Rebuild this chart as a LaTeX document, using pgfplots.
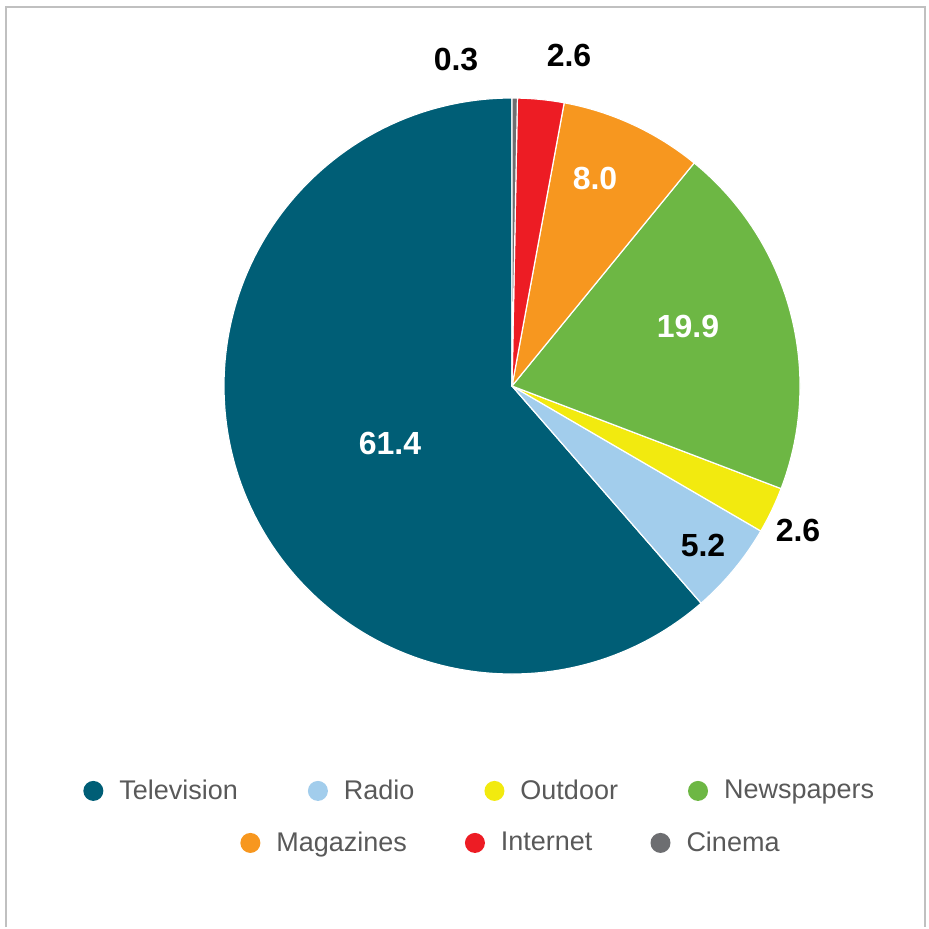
\documentclass[border=0pt]{standalone}
\usepackage{pgfplots}
\pgfplotsset{compat=1.18}
\usepackage{pgfplotstable}
\usepackage{fontspec}
\setmainfont{Liberation Sans}
\definecolor{ctv}{HTML}{005E76}
\definecolor{cradio}{HTML}{A2CDEC}
\definecolor{coutdoor}{HTML}{F2EA0F}
\definecolor{cnews}{HTML}{6DB744}
\definecolor{cmag}{HTML}{F7971F}
\definecolor{cnet}{HTML}{ED1C24}
\definecolor{ccinema}{HTML}{6D6E71}
\definecolor{legtext}{HTML}{595959}
\definecolor{framegray}{HTML}{C0C0C0}

% share of ad spend, counter-clockwise from 12 o'clock
\pgfplotstableread{
name value color
Television 61.4 ctv
Radio 5.2 cradio
Outdoor 2.6 coutdoor
Newspapers 19.9 cnews
Magazines 8.0 cmag
Internet 2.6 cnet
Cinema 0.3 ccinema
}\piedata

\pgfplotsset{
  pieframe/.style={
    scale only axis, width=464.5pt, height=463.5pt,
    xmin=0, xmax=929, ymin=0, ymax=927,
    hide axis, clip=false,
  },
  dotlegend/.style={
    legend style={draw=none, fill=none, inner sep=0pt, anchor=west,
      font=\fontsize{13.5}{16}\selectfont\color{legtext}},
    legend image code/.code={
      \path[draw=none, fill=none] (0pt,0pt) -- (16pt,0pt);
      \fill[draw=none, ##1] (5pt,0pt) circle (5pt);},
  },
}

\begin{document}
\begin{tikzpicture}
\begin{axis}[pieframe, dotlegend,
  legend columns=4,
  legend style={at={(0.0893,0.1468)},
    /tikz/every even column/.append style={column sep=33pt}}]
  \pgfplotsextra{
    \path (axis cs:0,0) rectangle (axis cs:929,927);
    \draw[framegray, line width=1pt] (axis cs:6,0) -- (axis cs:6,920)
      -- (axis cs:925,920) -- (axis cs:925,0);
    \def\start{90}
    \pgfplotsforeachungrouped \i in {0,...,6}{
      \pgfplotstablegetelem{\i}{value}\of{\piedata}\let\v\pgfplotsretval
      \pgfplotstablegetelem{\i}{color}\of{\piedata}\let\c\pgfplotsretval
      \pgfmathsetmacro{\stop}{\start+3.6*\v}
      \fill[fill=\c, draw=white, line width=0.6pt, line join=round]
        (axis cs:512,541) -- ++(\start:144pt)
        arc[start angle=\start, end angle=\stop, radius=144pt] -- cycle;
      \global\let\start\stop
    }
  }
  \node[font=\fontsize{16}{19}\bfseries\selectfont, white] at (axis cs:390,484) {61.4};
  \node[font=\fontsize{16}{19}\bfseries\selectfont, black] at (axis cs:703,382) {5.2};
  \node[font=\fontsize{16}{19}\bfseries\selectfont, black] at (axis cs:798,397) {2.6};
  \node[font=\fontsize{16}{19}\bfseries\selectfont, white] at (axis cs:688,601) {19.9};
  \node[font=\fontsize{16}{19}\bfseries\selectfont, white] at (axis cs:595,749) {8.0};
  \node[font=\fontsize{16}{19}\bfseries\selectfont, black] at (axis cs:569,872) {2.6};
  \node[font=\fontsize{16}{19}\bfseries\selectfont, black] at (axis cs:456,867) {0.3};
  \addlegendimage{fill=ctv}
  \addlegendentry{Television}
  \addlegendimage{fill=cradio}
  \addlegendentry{Radio}
  \addlegendimage{fill=coutdoor}
  \addlegendentry{Outdoor}
  \addlegendimage{fill=cnews, draw=cradio, line width=0.5pt}
  \addlegendentry{Newspapers}
\end{axis}
\begin{axis}[pieframe, dotlegend,
  legend columns=3,
  legend style={at={(0.2583,0.0907)},
    /tikz/every even column/.append style={column sep=27pt}}]
  \addlegendimage{fill=cmag, draw=cmag!50, line width=0.5pt}
  \addlegendentry{Magazines}
  \addlegendimage{fill=cnet}
  \addlegendentry{Internet}
  \addlegendimage{fill=ccinema}
  \addlegendentry{Cinema}
\end{axis}
\end{tikzpicture}
\end{document}
